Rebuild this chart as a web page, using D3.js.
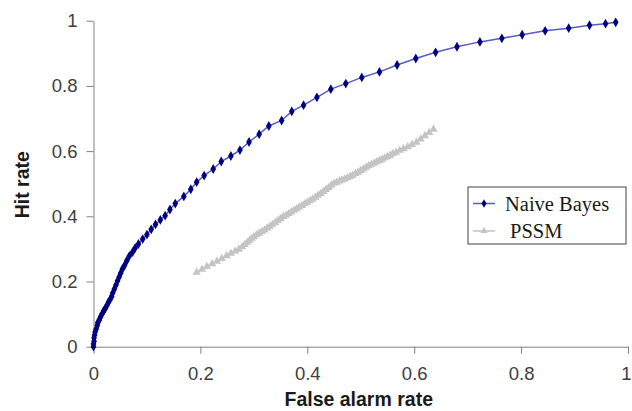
<!DOCTYPE html>
<meta charset="utf-8">
<head>
    <title>ROC curves</title>
    <script src="https://d3js.org/d3.v7.min.js"></script>
</head>

<style>
body { margin: 0; background: #fff; }
.axis path, .axis line { stroke: #808080; }
.axis text { font-family: Arial, "Liberation Sans", sans-serif; font-size: 18.5px; fill: #404040; }
.title { font-family: Arial, "Liberation Sans", sans-serif; font-size: 19.5px; font-weight: bold; fill: #1a1a1a; }
.legend text { font-family: "Times New Roman", "Liberation Serif", serif; font-size: 20.5px; fill: #1a1a1a; }
</style>

<body>
<svg></svg>
<script>

// tick values on both axes
let tickValues = [0, 0.2, 0.4, 0.6, 0.8, 1];
let tickLabels = ["0", "0.2", "0.4", "0.6", "0.8", "1"];

// Naive Bayes curve
let nbFalse = [0, 0.000, 0.001, 0.001, 0.002, 0.003, 0.005, 0.007, 0.008, 0.011, 0.013, 0.016, 0.019, 0.022,
  0.025, 0.028, 0.031, 0.034, 0.036, 0.039, 0.042, 0.045, 0.048, 0.051, 0.054, 0.058, 0.062, 0.067,
  0.073, 0.078, 0.084, 0.092, 0.100, 0.108, 0.116, 0.125, 0.134, 0.143, 0.153, 0.169, 0.182, 0.193,
  0.207, 0.224, 0.239, 0.257, 0.274, 0.291, 0.310, 0.328, 0.352, 0.371, 0.393, 0.418, 0.444, 0.472,
  0.502, 0.535, 0.568, 0.603, 0.640, 0.680, 0.723, 0.764, 0.802, 0.845, 0.889, 0.928, 0.958, 0.977];
let nbHit = [0, 0.008, 0.017, 0.027, 0.036, 0.045, 0.054, 0.065, 0.074, 0.082, 0.091, 0.100, 0.110, 0.117,
  0.126, 0.136, 0.145, 0.154, 0.165, 0.177, 0.189, 0.202, 0.214, 0.226, 0.238, 0.249, 0.263, 0.278,
  0.290, 0.303, 0.315, 0.330, 0.344, 0.360, 0.375, 0.389, 0.402, 0.421, 0.439, 0.461, 0.483, 0.505,
  0.525, 0.545, 0.568, 0.585, 0.603, 0.628, 0.652, 0.677, 0.694, 0.722, 0.741, 0.765, 0.790, 0.807,
  0.826, 0.843, 0.864, 0.884, 0.903, 0.920, 0.935, 0.946, 0.957, 0.969, 0.977, 0.986, 0.991, 0.995];

// PSSM curve
let psFalse = [0.193, 0.203, 0.212, 0.222, 0.231, 0.240, 0.249, 0.257, 0.265, 0.272, 0.278, 0.283, 0.288,
  0.292, 0.296, 0.300, 0.305, 0.310, 0.315, 0.320, 0.325, 0.330, 0.335, 0.340, 0.345, 0.350, 0.355,
  0.360, 0.365, 0.370, 0.375, 0.380, 0.385, 0.390, 0.395, 0.400, 0.405, 0.410, 0.415, 0.420, 0.425,
  0.430, 0.435, 0.440, 0.445, 0.450, 0.455, 0.460, 0.465, 0.470, 0.475, 0.480, 0.485, 0.490, 0.495,
  0.500, 0.505, 0.510, 0.515, 0.520, 0.525, 0.530, 0.535, 0.540, 0.545, 0.550, 0.555, 0.560, 0.566,
  0.573, 0.580, 0.588, 0.596, 0.604, 0.612, 0.620, 0.628, 0.636];
let psHit = [0.228, 0.237, 0.246, 0.254, 0.262, 0.270, 0.279, 0.286, 0.293, 0.299, 0.306, 0.313, 0.320,
  0.326, 0.332, 0.337, 0.343, 0.348, 0.353, 0.358, 0.364, 0.369, 0.375, 0.381, 0.387, 0.393, 0.399,
  0.403, 0.408, 0.413, 0.418, 0.423, 0.428, 0.433, 0.438, 0.443, 0.448, 0.453, 0.458, 0.464, 0.470,
  0.476, 0.482, 0.488, 0.495, 0.501, 0.504, 0.508, 0.511, 0.514, 0.518, 0.522, 0.526, 0.531, 0.535,
  0.540, 0.545, 0.550, 0.555, 0.559, 0.563, 0.567, 0.571, 0.575, 0.579, 0.583, 0.587, 0.592, 0.596,
  0.602, 0.607, 0.613, 0.620, 0.627, 0.637, 0.647, 0.657, 0.667];

let seriesNames = ["Naive Bayes", "PSSM"];

let nbData = nbFalse.map(function(d, i) { return [d, nbHit[i]]; });
let psData = psFalse.map(function(d, i) { return [d, psHit[i]]; });

// set the dimensions and margins of the graph
let margin = {top: 20.7, right: 4, bottom: 64.3, left: 93.5};
let width = 632 - margin.left - margin.right;
let height = 411 - margin.top - margin.bottom;

let x = d3.scaleLinear().domain([0, 1]).range([0, width]);
let y = d3.scaleLinear().domain([0, 1]).range([height, 0]);

let svg = d3.select("svg")
    .attr("width", 632)
    .attr("height", 411)
    .append("g")
    .attr("transform", "translate(" + margin.left + "," + margin.top + ")");

// y axis
svg.append("g")
  .attr("class", "axis")
  .call(d3.axisLeft(y).tickValues(tickValues).tickSize(7).tickSizeOuter(0).tickPadding(9)
    .tickFormat(function(d, i) { return tickLabels[i]; }));

// x axis
let xAxis = svg.append("g")
  .attr("class", "axis")
  .attr("transform", "translate(0," + height + ")")
  .call(d3.axisBottom(x).tickValues(tickValues).tickSize(7).tickSizeOuter(0).tickPadding(13)
    .tickFormat(function(d, i) { return tickLabels[i]; }));

// keep the last label inside the window
xAxis.selectAll(".tick:last-of-type text").attr("dx", "-2");

let line = d3.line()
    .x(function(d) { return x(d[0]); })
    .y(function(d) { return y(d[1]); });

// PSSM
svg.append("path")
    .datum(psData)
    .attr("fill", "none")
    .attr("stroke", "#3a3a3a")
    .attr("stroke-width", 0.8)
    .attr("d", line);

svg.selectAll(".ps")
    .data(psData)
    .enter()
    .append("path")
    .attr("class", "ps")
    .attr("transform", function(d) { return "translate(" + x(d[0]) + "," + y(d[1]) + ")"; })
    .attr("d", d3.symbol().type(d3.symbolTriangle).size(30))
    .attr("fill", "#c4c4c4");

// Naive Bayes
svg.append("path")
    .datum(nbData)
    .attr("fill", "none")
    .attr("stroke", "#5a5ac8")
    .attr("stroke-width", 1.5)
    .attr("d", line);

svg.selectAll(".nb")
    .data(nbData)
    .enter()
    .append("path")
    .attr("class", "nb")
    .attr("transform", function(d) { return "translate(" + x(d[0]) + "," + y(d[1]) + ")"; })
    .attr("d", d3.symbol().type(d3.symbolDiamond).size(28))
    .attr("fill", "#000080");

// axis titles
svg.append("text")
  .attr("class", "title")
  .attr("x", width / 2 - 2)
  .attr("y", height + 59)
  .attr("text-anchor", "middle")
  .text("False alarm rate");

svg.append("text")
  .attr("class", "title")
  .attr("transform", "translate(" + (-65) + "," + (height / 2 + 1) + ") rotate(-90)")
  .attr("text-anchor", "middle")
  .text("Hit rate");

// legend
let legend = svg.append("g")
  .attr("class", "legend")
  .attr("transform", "translate(" + (468 - margin.left) + "," + (187 - margin.top) + ")");

legend.append("rect")
  .attr("width", 158).attr("height", 57)
  .attr("fill", "#fff").attr("stroke", "#404040").attr("stroke-width", 1);

let itemColor = ["#5a5ac8", "#c4c4c4"];
let markColor = ["#000080", "#c4c4c4"];
let markType = [d3.symbolDiamond, d3.symbolTriangle];
let textX = [37, 42];

seriesNames.forEach(function(name, i) {
  let cy = 16.5 + i * 27.5;
  legend.append("line")
    .attr("x1", 5).attr("x2", 27).attr("y1", cy).attr("y2", cy)
    .attr("stroke", itemColor[i]).attr("stroke-width", 1.5);
  legend.append("path")
    .attr("transform", "translate(16," + cy + ")")
    .attr("d", d3.symbol().type(markType[i]).size(22))
    .attr("fill", markColor[i]);
  legend.append("text")
    .attr("x", textX[i]).attr("y", cy + 7)
    .text(name);
});

</script>
</body>
